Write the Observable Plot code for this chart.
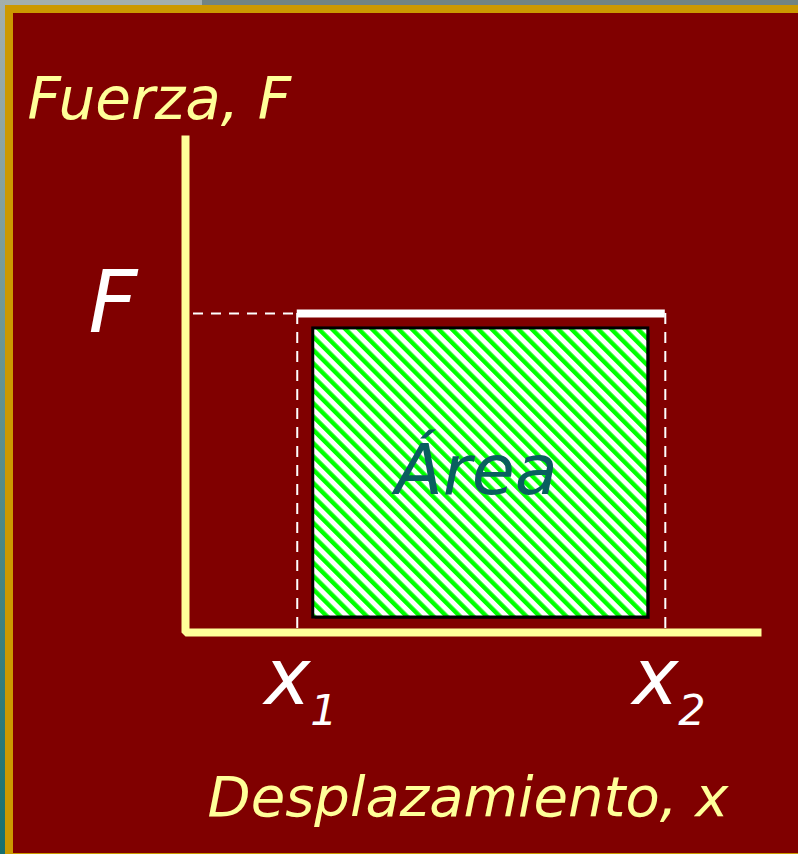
<!DOCTYPE html>
<html>
<head>
<meta charset="utf-8">
<script src="https://cdn.jsdelivr.net/npm/d3@7"></script>
<script src="https://cdn.jsdelivr.net/npm/@observablehq/plot@0.6"></script>
<style>
  html, body { margin: 0; padding: 0; }
  body { width: 798px; height: 854px; overflow: hidden; position: relative; background: #a3afad; }
  #topright { position: absolute; left: 202px; top: 0; width: 596px; height: 5px; background: #718482; }
  #left { position: absolute; left: 0; top: 0; width: 5px; height: 854px; background: linear-gradient(#a3afad, #17706f); }
  #gold { position: absolute; left: 5px; top: 5px; width: 793px; height: 849px; background: #cc9900; }
  #red { position: absolute; left: 13px; top: 13px; width: 785px; height: 840px; background: #800000; }
  #chart { position: absolute; left: 0; top: 0; }
</style>
</head>
<body>
<div id="topright"></div>
<div id="left"></div>
<div id="gold"></div>
<div id="red"></div>
<div id="chart"></div>
<script>
// Conceptual diagram values (arbitrary units)
const xMax = 100;          // end of displacement axis
const yMax = 100;          // top of force axis
const x1 = 19.4;           // start displacement
const x2 = 83.3;           // end displacement
const F = 64.2;            // constant force

const axisPoints = [
  {x: 0, y: yMax},
  {x: 0, y: 0},
  {x: xMax, y: 0}
];
const positions = [x1, x2];
const subscripts = ["1", "2"];
const areaRect = [{x1: x1, x2: x2, y1: 0, y2: F}];

const font = "DejaVu Sans";

const plot = Plot.plot({
  width: 798,
  height: 854,
  margin: 0,
  style: {background: "transparent", overflow: "visible"},
  x: {domain: [0, xMax], range: [185, 761], axis: null},
  y: {domain: [0, yMax], range: [632, 135], axis: null},
  marks: [
    // soft shadow of the hatched area
    Plot.rect(areaRect, {
      x1: "x1", x2: "x2", y1: "y1", y2: "y2",
      fill: "#3a0000", dx: 2, dy: 2,
      insetLeft: 16, insetRight: 17, insetTop: 15, insetBottom: 15
    }),
    // hatched area
    Plot.rect(areaRect, {
      x1: "x1", x2: "x2", y1: "y1", y2: "y2",
      fill: "url(#hatch)", stroke: "black", strokeWidth: 3,
      insetLeft: 16, insetRight: 17, insetTop: 15, insetBottom: 15
    }),
    // dashed guides
    Plot.ruleY([F], {x1: 0, x2: x1, stroke: "white", strokeWidth: 2, strokeDasharray: "10,8", insetLeft: 8}),
    Plot.ruleX(positions, {y1: F, y2: 0, stroke: "white", strokeWidth: 2, strokeDasharray: "11,8"}),
    // force level
    Plot.ruleY([F], {x1: x1, x2: x2, stroke: "white", strokeWidth: 8}),
    // axes
    Plot.line(axisPoints, {x: "x", y: "y", stroke: "#ffff99", strokeWidth: 8, strokeLinejoin: "miter", strokeLinecap: "butt"}),
    // labels
    Plot.text(["Fuerza, F"], {x: 0, y: yMax, text: d => d, textAnchor: "start", lineAnchor: "bottom",
      dx: -158, dy: -17, fontSize: 58, fontStyle: "italic", fontFamily: font, fill: "#ffff99"}),
    Plot.text(["F"], {x: 0, y: F, text: d => d, textAnchor: "end", lineAnchor: "bottom",
      dx: -48, dy: 19, fontSize: 85, fontStyle: "italic", fontFamily: font, fill: "white"}),
    Plot.text(["Área"], {x: (x1 + x2) / 2, y: F / 2, text: d => d, textAnchor: "middle", lineAnchor: "bottom",
      dx: -5, dy: 21, fontSize: 70, fontStyle: "italic", fontFamily: font, fill: "#0a5f5f"}),
    Plot.text(positions, {x: d => d, y: 0, text: () => "x", textAnchor: "middle", lineAnchor: "bottom",
      dx: -10, dy: 71, fontSize: 78, fontStyle: "italic", fontFamily: font, fill: "white"}),
    Plot.text(positions, {x: d => d, y: 0, text: (d, i) => subscripts[i], textAnchor: "start", lineAnchor: "bottom",
      dx: 13, dy: 92, fontSize: 43, fontStyle: "italic", fontFamily: font, fill: "white"}),
    Plot.text(["Desplazamiento, x"], {x: xMax, y: 0, text: d => d, textAnchor: "end", lineAnchor: "bottom",
      dx: -33, dy: 183, fontSize: 56, fontStyle: "italic", fontFamily: font, fill: "#ffff99"})
  ]
});

// hatch pattern definition
const svg = d3.select(plot);
const defs = svg.insert("defs", ":first-child");
const pat = defs.append("pattern")
  .attr("id", "hatch")
  .attr("patternUnits", "userSpaceOnUse")
  .attr("width", 9.4)
  .attr("height", 9.4)
  .attr("patternTransform", "rotate(-45)");
pat.append("rect").attr("width", 9.4).attr("height", 9.4).attr("fill", "white");
pat.append("rect").attr("width", 4.4).attr("height", 9.4).attr("fill", "#00ff00");

document.getElementById("chart").appendChild(plot);
</script>
</body>
</html>
